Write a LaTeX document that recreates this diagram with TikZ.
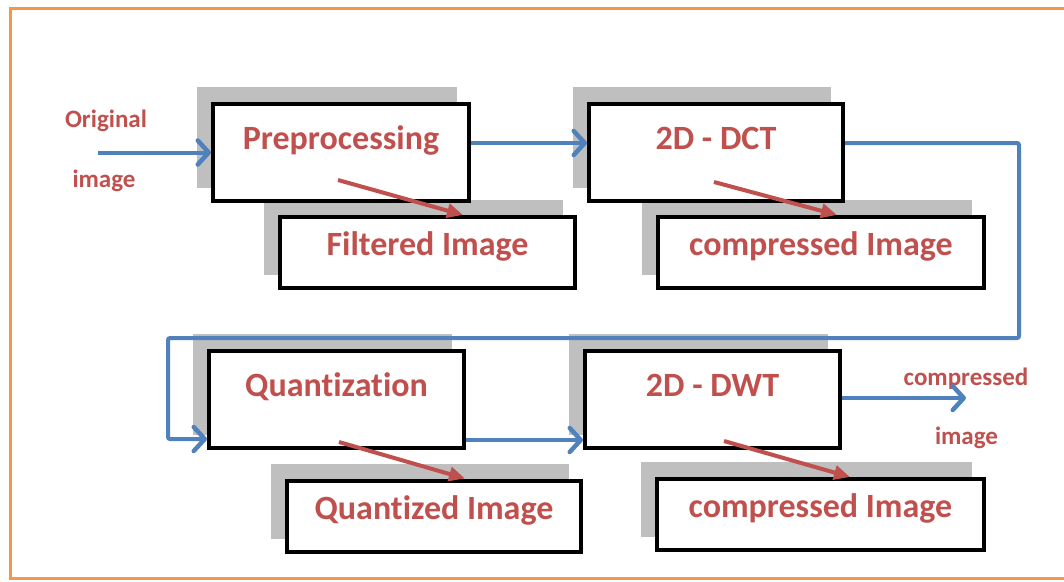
\documentclass[tikz,border=0pt]{standalone}
\usepackage{fontspec}
\setmainfont{Carlito}[Ligatures=NoCommon]
\usetikzlibrary{arrows.meta,shadows}
\definecolor{frameorange}{HTML}{F79646}
\definecolor{flowblue}{HTML}{4F81BD}
\definecolor{txtred}{HTML}{C0504D}
\definecolor{shade}{HTML}{BFBFBF}
\begin{document}
\begin{tikzpicture}[x=1pt,y=-1pt,
  stage/.style={draw=black, line width=4pt, fill=white, inner sep=0pt,
    font=\fontsize{34}{40}\selectfont\bfseries, text=txtred,
    general shadow={fill=shade, draw=shade, shadow xshift=-14pt, shadow yshift=15pt}},
  upper/.style={stage, minimum width=256pt, minimum height=97pt, text height=24pt, text depth=30pt},
  lower/.style={stage, minimum height=71pt, text height=24pt, text depth=18pt},
  flow/.style={draw=flowblue, line width=4pt, -{Straight Barb[length=11pt,width=24pt,line width=4.5pt,round]}},
  result/.style={draw=txtred, line width=4pt, -{Triangle[length=16pt,width=14pt]}},
  side/.style={text=txtred, font=\fontsize{25}{30}\selectfont\bfseries, inner sep=0pt, anchor=base}
]
\useasboundingbox (0,0) rectangle (1064,581);

% outer frame
\draw[frameorange, line width=3pt] (10,8) rectangle (1080,578);

% output boxes (drawn first so the stage boxes sit above their shadows)
\node[lower, minimum width=295pt] (filt) at (427.5,252.5) {Filtered Image};
\node[lower, minimum width=326pt] (cmp1) at (821,252.5) {compressed Image};
\node[lower, minimum width=294pt] (qimg) at (434,516) {Quantized Image};
\node[lower, minimum width=327pt] (cmp2) at (820.5,514.5) {compressed Image};

% processing stages
\node[upper] (pre) at (341,152.5) {Preprocessing};
\node[upper, minimum width=254pt] (dct) at (716,152.5) {2D - DCT};
\node[upper, minimum width=255pt] (quant) at (336.5,399.5) {Quantization};
\node[upper, minimum width=255pt] (dwt) at (712.5,399.5) {2D - DWT};

% input / output captions
\node[side] (inlbl1) at (106,127) {Original};
\node[side] (inlbl2) at (104,187) {image};
\node[side] (outlbl1) at (966,385) {compressed};
\node[side] (outlbl2) at (966.5,444) {image};

% free ends and bends of the flow
\coordinate (src) at (98,152.5);
\coordinate (dst) at (966,398);
\coordinate (turnR) at (1019,338);
\coordinate (turnL) at (168,338);

% main flow
\draw[flow] (src) -- (pre.west);
\draw[flow] ([yshift=9.5pt]pre.east) -- ([yshift=9.5pt]dct.west);
\draw[flow, rounded corners=2pt] ([yshift=9.5pt]dct.east) -| (turnR) -- (turnL) |- ([yshift=-39.5pt]quant.west);
\draw[flow] ([yshift=-40.5pt]quant.east) -- ([yshift=-40.5pt]dwt.west);
\draw[flow] ([yshift=1.5pt]dwt.east) -- (dst);

% stage results
\draw[result] ([xshift=-3pt,yshift=23pt]pre.south) -- ([xshift=35.5pt]filt.north);
\draw[result] ([xshift=-2pt,yshift=21pt]dct.south) -- ([xshift=16pt]cmp1.north);
\draw[result] ([xshift=2.5pt,yshift=8pt]quant.south) -- ([xshift=31pt]qimg.north);
\draw[result] ([xshift=11.5pt,yshift=9pt]dwt.south) -- ([xshift=29.5pt]cmp2.north);
\end{tikzpicture}
\end{document}
